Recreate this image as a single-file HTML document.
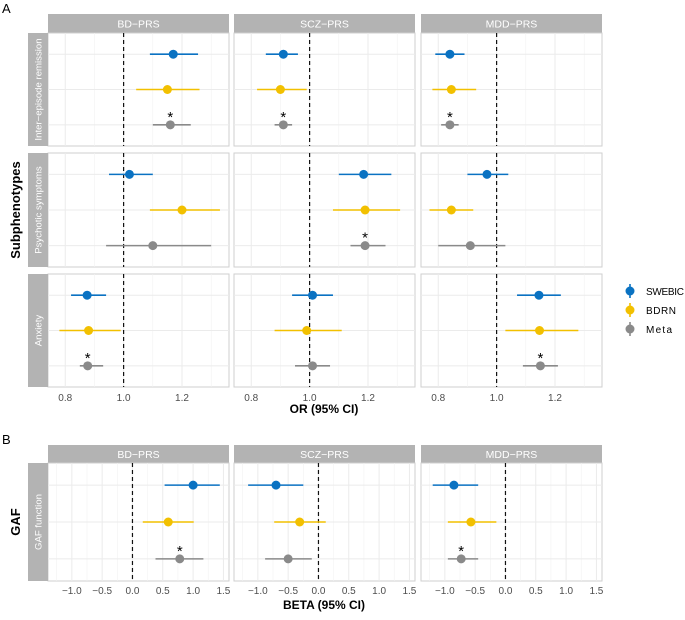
<!DOCTYPE html>
<html><head><meta charset="utf-8"><style>
body{margin:0;background:#fff}
svg text{font-family:"Liberation Sans",Arial,sans-serif}
</style></head><body>
<svg id="s" width="685" height="615" xmlns="http://www.w3.org/2000/svg"></svg>
<script>
const s=document.getElementById('s');let h='';
const C=['#0a72c2','#f2c000','#8a8a8a'];
const cols=[48,234,421],W=181;
function panel(x0,y0,y1,xmin,xmax,majors,minors,ref,data){
 const sx=v=>x0+(v-xmin)/(xmax-xmin)*W;
 h+=`<rect x="${x0}" y="${y0}" width="${W}" height="${y1-y0}" fill="#fff" stroke="#cfcfcf" stroke-width="1"/>`;
 minors.forEach(v=>h+=`<line x1="${sx(v)}" x2="${sx(v)}" y1="${y0}" y2="${y1}" stroke="#f2f2f2" stroke-width="0.6"/>`);
 majors.forEach(v=>h+=`<line x1="${sx(v)}" x2="${sx(v)}" y1="${y0}" y2="${y1}" stroke="#ebebeb" stroke-width="1"/>`);
 const u=(y1-y0)/3.2;
 [0,1,2].forEach(i=>{const y=y0+u*(0.6+i);h+=`<line x1="${x0}" x2="${x0+W}" y1="${y}" y2="${y}" stroke="#ebebeb" stroke-width="1"/>`});
 h+=`<line x1="${sx(ref)}" x2="${sx(ref)}" y1="${y0}" y2="${y1}" stroke="#111" stroke-width="1.2" stroke-dasharray="4,3"/>`;
 data.forEach((d,i)=>{const y=y0+u*(0.6+i);
  h+=`<line x1="${sx(d[1])}" x2="${sx(d[2])}" y1="${y}" y2="${y}" stroke="${C[i]}" stroke-width="1.6"/><circle cx="${sx(d[0])}" cy="${y}" r="4.5" fill="${C[i]}"/>`;
  if(d[3])h+=`<text x="${sx(d[0])}" y="${y-3}" font-size="15" text-anchor="middle">*</text>`;});
}
function strip(x,y,w,hh,t){h+=`<rect x="${x}" y="${y}" width="${w}" height="${hh}" fill="#b3b3b3"/><text x="${x+w/2}" y="${y+hh/2+4}" font-size="10.5" fill="#fff" text-anchor="middle">${t}</text>`;}
function rstrip(y0,y1,t){h+=`<rect x="28" y="${y0}" width="20" height="${y1-y0}" fill="#b3b3b3"/><text transform="translate(41.5,${(y0+y1)/2}) rotate(-90)" font-size="9.6" fill="#fff" text-anchor="middle">${t}</text>`;}
const names=['BD\u2212PRS','SCZ\u2212PRS','MDD\u2212PRS'];
const rows=[[33,146],[153,267],[274,387]];
const A=[
 [[[1.17,1.09,1.255],[1.15,1.043,1.26],[1.16,1.10,1.23,1]],
  [[1.02,0.95,1.10],[1.20,1.09,1.33],[1.10,0.94,1.30]],
  [[0.875,0.82,0.94],[0.88,0.78,0.99],[0.877,0.85,0.93,1]]],
 [[[0.91,0.85,0.96],[0.90,0.82,0.99],[0.91,0.88,0.94,1]],
  [[1.185,1.10,1.28],[1.19,1.08,1.31],[1.19,1.14,1.26,1]],
  [[1.01,0.94,1.08],[0.99,0.88,1.11],[1.01,0.95,1.07]]],
 [[[0.84,0.79,0.89],[0.845,0.78,0.93],[0.84,0.81,0.87,1]],
  [[0.967,0.90,1.04],[0.845,0.77,0.92],[0.91,0.80,1.03]],
  [[1.145,1.07,1.22],[1.147,1.03,1.28],[1.15,1.09,1.21,1]]]];
const rn=['Inter\u2212episode remission','Psychotic symptoms','Anxiety'];
cols.forEach((x,c)=>{strip(x,14,W,19,names[c]);
 rows.forEach((r,ri)=>panel(x,r[0],r[1],0.741,1.361,[0.8,1.0,1.2],[0.9,1.1,1.3],1.0,A[c][ri]));
 [0.8,1.0,1.2].forEach(v=>h+=`<text x="${x+(v-0.741)/0.62*W}" y="401" font-size="10" fill="#4d4d4d" text-anchor="middle">${v.toFixed(1)}</text>`);
});
rows.forEach((r,i)=>rstrip(r[0],r[1],rn[i]));
h+=`<text x="324" y="413" font-size="12" font-weight="bold" text-anchor="middle">OR (95% CI)</text>`;
h+=`<text transform="translate(20,210) rotate(-90)" font-size="13" font-weight="bold" text-anchor="middle">Subphenotypes</text>`;
h+=`<text x="2" y="13" font-size="13">A</text><text x="2" y="444" font-size="13">B</text>`;
['SWEBIC','BDRN','Meta'].forEach((t,i)=>{const y=291+i*19;h+=`<line x1="630" x2="630" y1="${y-7}" y2="${y+7}" stroke="${C[i]}" stroke-width="1.6"/><circle cx="630" cy="${y}" r="4.5" fill="${C[i]}"/><text x="646" y="${y+4}" font-size="10" textLength="${[38,30,26][i]}">${t}</text>`});
const B=[[[1.0,0.53,1.44],[0.59,0.17,1.01],[0.78,0.38,1.17,1]],
 [[-0.7,-1.16,-0.25],[-0.31,-0.73,0.12],[-0.50,-0.88,-0.11]],
 [[-0.85,-1.2,-0.45],[-0.57,-0.95,-0.15],[-0.73,-0.95,-0.45,1]]];
const bmin=-1.393,bmax=1.592;
cols.forEach((x,c)=>{strip(x,445,W,18,names[c]);
 panel(x,463,581,bmin,bmax,[-1,-0.5,0,0.5,1,1.5],[-1.25,-0.75,-0.25,0.25,0.75,1.25],0,[B[c][0],B[c][1],B[c][2]]);
 [-1,-0.5,0,0.5,1,1.5].forEach(v=>h+=`<text x="${x+(v-bmin)/(bmax-bmin)*W}" y="594" font-size="10" fill="#4d4d4d" text-anchor="middle">${(v<0?'\u2212':'')+Math.abs(v).toFixed(1)}</text>`);
});
rstrip(463,581,'GAF function');
h+=`<text x="324" y="609" font-size="12" font-weight="bold" text-anchor="middle">BETA (95% CI)</text>`;
h+=`<text transform="translate(20,522) rotate(-90)" font-size="13" font-weight="bold" text-anchor="middle">GAF</text>`;
s.innerHTML=h;
</script>
</body></html>
